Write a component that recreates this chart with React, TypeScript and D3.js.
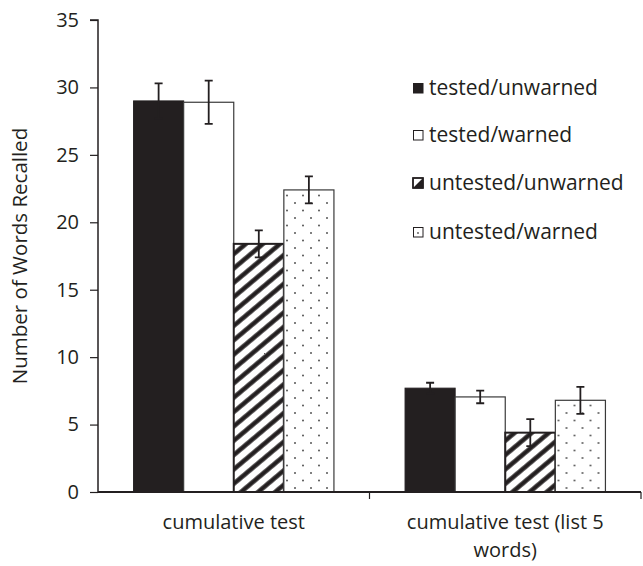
import React from "react";
import * as d3 from "d3";

const categories = ["cumulative test", "cumulative test (list 5 words)"];
const seriesNames = ["tested/unwarned", "tested/warned", "untested/unwarned", "untested/warned"];
const means = [
  [29.0, 28.9, 18.4, 22.4],
  [7.7, 7.05, 4.4, 6.8],
];
const errors = [
  [1.3, 1.6, 1.0, 1.0],
  [0.4, 0.47, 1.0, 1.0],
];
const yTicks = [0, 5, 10, 15, 20, 25, 30, 35];

const W = 643;
const H = 566;
const margin = { left: 98, right: 2, top: 20, bottom: 74 };
const ink = "#231f20";
const font = "'Open Sans', 'DejaVu Sans', sans-serif";

const fills = ["url(#solid)", "#ffffff", "url(#hatch)", "url(#dots)"];
const strokes = [ink, "#3a3a3a", ink, "#3a3a3a"];
const strokeWidths = [1, 1.2, 2, 1.2];

const App = () => {
  const svgRef = React.useRef<SVGSVGElement>(null);

  React.useEffect(() => {
    const innerW = W - margin.left - margin.right;
    const innerH = H - margin.top - margin.bottom;
    const svgEl = d3.select(svgRef.current);
    svgEl.selectAll("*").remove();

    // patterns
    const defs = svgEl.append("defs");
    const solid = defs.append("pattern").attr("id", "solid")
      .attr("patternUnits", "userSpaceOnUse").attr("width", 4).attr("height", 4);
    solid.append("rect").attr("width", 4).attr("height", 4).attr("fill", ink);

    const hatch = defs.append("pattern").attr("id", "hatch")
      .attr("patternUnits", "userSpaceOnUse").attr("width", 11).attr("height", 11)
      .attr("patternTransform", "rotate(50)");
    hatch.append("rect").attr("width", 11).attr("height", 11).attr("fill", "#fff");
    hatch.append("line").attr("x1", 2.5).attr("x2", 2.5).attr("y1", 0).attr("y2", 11)
      .attr("stroke", ink).attr("stroke-width", 4.5);

    const dots = defs.append("pattern").attr("id", "dots")
      .attr("patternUnits", "userSpaceOnUse").attr("width", 16).attr("height", 15)
      .attr("x", 2).attr("y", 0);
    dots.append("rect").attr("width", 16).attr("height", 15).attr("fill", "#fff");
    dots.append("circle").attr("cx", 3).attr("cy", 3).attr("r", 1).attr("fill", "#555");
    dots.append("circle").attr("cx", 11).attr("cy", 10.5).attr("r", 1).attr("fill", "#555");

    const svg = svgEl.append("g").attr("transform", `translate(${margin.left},${margin.top})`);

    const x0 = d3.scaleBand().domain(categories).range([0, innerW]).paddingInner(0).paddingOuter(0);
    const x1 = d3.scaleBand().domain(seriesNames).range([0, x0.bandwidth()]).paddingOuter(0.71).paddingInner(0);
    const y = d3.scaleLinear().domain([0, 35]).range([innerH, 0]);

    // y axis
    const yAxis = d3.axisLeft(y).tickValues(yTicks).tickSize(8).tickPadding(11);
    const yg = svg.append("g").call(yAxis);
    yg.select(".domain").attr("stroke", ink).attr("stroke-width", 1.5).attr("d", `M0,${innerH}V0H-8`);
    yg.selectAll(".tick line").attr("stroke", ink).attr("stroke-width", 1.2);
    yg.selectAll("text").attr("font-family", font).attr("font-size", 20).attr("fill", ink);

    // bars
    const groups = svg.selectAll(".grp").data(categories).enter().append("g")
      .attr("transform", (c) => `translate(${x0(c)},0)`);

    groups.each(function (c, ci) {
      const g = d3.select(this);
      seriesNames.forEach((s, si) => {
        const v = means[ci][si];
        g.append("rect")
          .attr("x", x1(s)!)
          .attr("y", y(v))
          .attr("width", x1.bandwidth())
          .attr("height", innerH - y(v))
          .attr("fill", fills[si])
          .attr("stroke", strokes[si])
          .attr("stroke-width", strokeWidths[si]);
      });
      seriesNames.forEach((s, si) => {
        const v = means[ci][si];
        const e = errors[ci][si];
        const cx = x1(s)! + x1.bandwidth() / 2;
        const path = d3.path();
        path.moveTo(cx, y(v + e));
        path.lineTo(cx, y(v - e));
        path.moveTo(cx - 4, y(v + e));
        path.lineTo(cx + 4, y(v + e));
        path.moveTo(cx - 4, y(v - e));
        path.lineTo(cx + 4, y(v - e));
        g.append("path").attr("d", path.toString()).attr("stroke", ink)
          .attr("stroke-width", 1.8).attr("fill", "none");
      });
    });

    // x axis
    svg.append("line").attr("x1", 0).attr("x2", innerW).attr("y1", innerH).attr("y2", innerH)
      .attr("stroke", ink).attr("stroke-width", 1.8);
    [x0.bandwidth(), innerW].forEach((tx) => {
      svg.append("line").attr("x1", tx).attr("x2", tx).attr("y1", innerH).attr("y2", innerH + 7)
        .attr("stroke", ink).attr("stroke-width", 1.2);
    });

    // x labels
    const xLabelLines = [["cumulative test"], ["cumulative test (list 5", "words)"]];
    categories.forEach((c, ci) => {
      xLabelLines[ci].forEach((ln, li) => {
        svg.append("text")
          .attr("x", x0(c)! + x0.bandwidth() / 2)
          .attr("y", innerH + 37 + li * 28)
          .attr("text-anchor", "middle")
          .attr("font-family", font).attr("font-size", 20).attr("fill", ink)
          .text(ln);
      });
    });

    // y title
    svgEl.append("text")
      .attr("transform", `translate(27,${margin.top + innerH / 2}) rotate(-90)`)
      .attr("text-anchor", "middle")
      .attr("font-family", font).attr("font-size", 20.5).attr("fill", ink)
      .text("Number of Words Recalled");

    // legend
    const legendY = [88, 135, 183, 232];
    seriesNames.forEach((s, si) => {
      const lg = svgEl.append("g").attr("transform", `translate(413,${legendY[si]})`);
      if (si === 2) {
        lg.append("rect").attr("x", 0).attr("y", -5).attr("width", 10).attr("height", 10)
          .attr("fill", "#fff").attr("stroke", ink).attr("stroke-width", 1.2);
        lg.append("path").attr("d", "M0,5L10,-5L10,5Z").attr("fill", ink);
        lg.append("rect").attr("x", 0).attr("y", -5).attr("width", 10).attr("height", 10)
          .attr("fill", "none").attr("stroke", ink).attr("stroke-width", 1.6);
      } else {
        lg.append("rect").attr("x", 0.5).attr("y", -4.5).attr("width", 9.5).attr("height", 9.5)
          .attr("fill", si === 0 ? ink : "#fff").attr("stroke", ink).attr("stroke-width", 1);
        if (si === 3) lg.append("circle").attr("cx", 5).attr("cy", 1).attr("r", 0.9).attr("fill", "#555");
      }
      lg.append("text").attr("x", 16).attr("y", 0).attr("dy", "0.35em")
        .attr("font-family", font).attr("font-size", 21).attr("fill", ink)
        .text(s);
    });
  }, []);

  return (
    <svg
      ref={svgRef}
      width={W}
      height={H}
      style={{ position: "absolute", left: 0, top: 0, background: "#fff" }}
    />
  );
};

export default App;
